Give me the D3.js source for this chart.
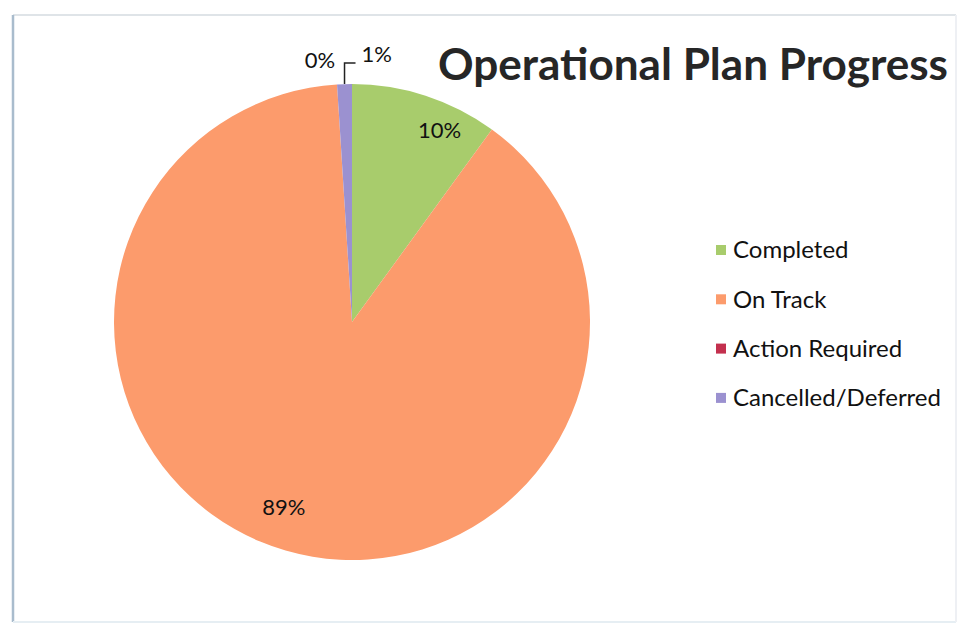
<!DOCTYPE html>
<html>
<head>
<meta charset="utf-8">
<script src="https://cdn.jsdelivr.net/npm/d3@7/dist/d3.min.js"></script>
<style>
  html, body { margin: 0; padding: 0; background: #ffffff; }
  svg { display: block; }
  text { font-family: Lato, "Open Sans", "Noto Sans", sans-serif; }
</style>
</head>
<body>
<svg id="chart" width="961" height="627"></svg>
<script>
// Status categories and their share of the operational plan (percent)
const categories = ["Completed", "On Track", "Action Required", "Cancelled/Deferred"];
const values = [10, 89, 0, 1];
const labels = ["10%", "89%", "0%", "1%"];
const colors = ["#a8cc6c", "#fc9b6c", "#c3304e", "#9b91d0"];
const title = "Operational Plan Progress";

const svg = d3.select("#chart");
const W = 961, H = 627;

// Chart frame
svg.append("rect").attr("x", 0).attr("y", 0).attr("width", W).attr("height", H).attr("fill", "#ffffff");
svg.append("line").attr("x1", 13).attr("x2", 956).attr("y1", 15).attr("y2", 15)
  .attr("stroke", "#dfe4e8").attr("stroke-width", 2);
svg.append("line").attr("x1", 13).attr("x2", 13).attr("y1", 15).attr("y2", 622)
  .attr("stroke", "#a9bccd").attr("stroke-width", 2.5);
svg.append("line").attr("x1", 13).attr("x2", 956).attr("y1", 622).attr("y2", 622)
  .attr("stroke", "#e6eef3").attr("stroke-width", 2);
svg.append("line").attr("x1", 956).attr("x2", 956).attr("y1", 15).attr("y2", 622)
  .attr("stroke", "#eef0f4").attr("stroke-width", 2);

// Pie
const cx = 352, cy = 322, R = 238;
const pie = d3.pie().sort(null).value(d => d)(values);
const arc = d3.arc().innerRadius(0).outerRadius(R);
const g = svg.append("g").attr("transform", `translate(${cx},${cy})`);

g.selectAll("path.slice")
  .data(pie)
  .join("path")
  .attr("class", "slice")
  .attr("d", arc)
  .attr("fill", (d, i) => colors[i]);

// In-slice labels (best-fit placement: radius fraction and angle shift per slice)
const inside = [
  { i: 0, rf: 0.885, shift: 0.115 },
  { i: 1, rf: 0.83, shift: 0.07 }
];
g.selectAll("text.inlabel")
  .data(inside)
  .join("text")
  .attr("class", "inlabel")
  .attr("transform", d => {
    const a = pie[d.i];
    const mid = (a.startAngle + a.endAngle) / 2 + d.shift;
    const r = R * d.rf;
    return `translate(${Math.sin(mid) * r},${-Math.cos(mid) * r})`;
  })
  .attr("text-anchor", "middle")
  .attr("dy", "0.35em")
  .attr("font-size", 22)
  .attr("fill", "#111")
  .text(d => labels[d.i]);

// Outside labels for the thin slices at the top
const thin = pie[3];
const thinMid = (thin.startAngle + thin.endAngle) / 2;
const tx = Math.sin(thinMid) * R, ty = -Math.cos(thinMid) * R;
g.append("path")
  .attr("d", `M${tx},${ty} V${ty - 21} H${tx + 11}`)
  .attr("fill", "none").attr("stroke", "#222").attr("stroke-width", 1.5);
g.append("text")
  .attr("x", tx + 17).attr("y", ty - 22)
  .attr("font-size", 22).attr("fill", "#111")
  .text(labels[3]);
const zero = pie[2];
const zx = Math.sin(zero.startAngle) * R, zy = -Math.cos(zero.startAngle) * R;
g.append("text")
  .attr("x", zx - 2).attr("y", zy - 16)
  .attr("text-anchor", "end")
  .attr("font-size", 22).attr("fill", "#111")
  .text(labels[2]);

// Title
svg.append("text")
  .attr("x", 948).attr("y", 80)
  .attr("text-anchor", "end")
  .attr("font-size", 44).attr("font-weight", "bold")
  .attr("fill", "#262626")
  .attr("textLength", 510)
  .attr("lengthAdjust", "spacingAndGlyphs")
  .text(title);

// Legend
const legend = svg.append("g").attr("transform", "translate(716,250)");
const item = legend.selectAll("g")
  .data(categories)
  .join("g")
  .attr("transform", (d, i) => `translate(0,${i * 49.3})`);
item.append("rect")
  .attr("x", 0).attr("y", -5).attr("width", 10).attr("height", 10)
  .attr("fill", (d, i) => colors[i]);
item.append("text")
  .attr("x", 17).attr("y", 0).attr("dy", "0.35em")
  .attr("font-size", 24).attr("fill", "#111")
  .text(d => d);
</script>
</body>
</html>
